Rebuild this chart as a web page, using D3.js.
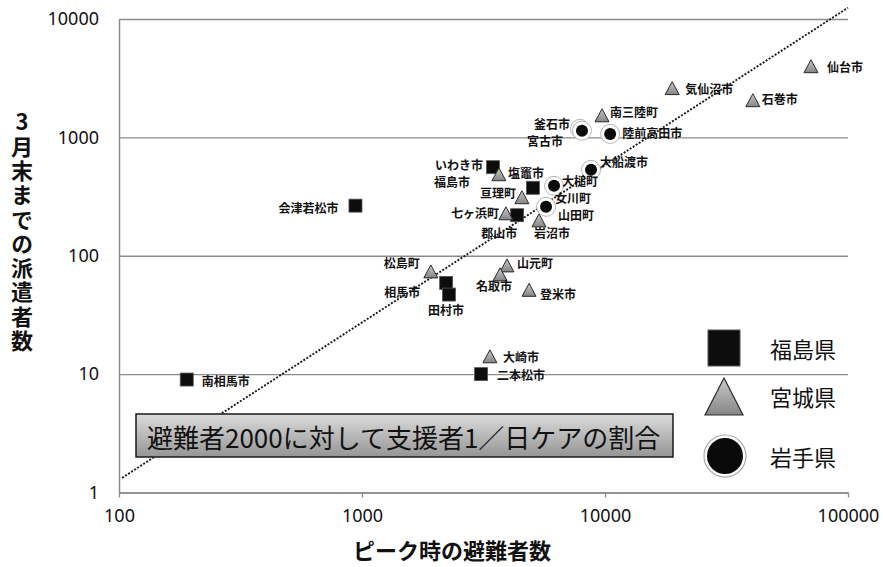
<!DOCTYPE html>
<html>
<head>
<meta charset="utf-8">
<script src="https://cdn.jsdelivr.net/npm/d3@7/dist/d3.min.js"></script>
<style>
  html, body { margin: 0; padding: 0; background: #fff; }
  svg { display: block; }
  .vtitle { writing-mode: vertical-rl; text-orientation: upright; }
</style>
</head>
<body>
<svg id="chart" width="883" height="567"></svg>
<script>
// ---- data: peak evacuees (x) vs. staff dispatched by end of March (y) ----
const fukushimaNames = ["南相馬市", "会津若松市", "いわき市", "福島市", "郡山市", "相馬市", "田村市", "二本松市"];
const fukushimaX     = [190, 940, 3460, 5050, 4350, 2220, 2280, 3090];
const fukushimaY     = [9, 265, 560, 375, 220, 59, 47, 10];

const miyagiNames = ["女川町", "仙台市", "石巻市", "気仙沼市", "南三陸町", "塩竈市", "亘理町", "七ヶ浜町", "岩沼市", "松島町", "山元町", "名取市", "登米市", "大崎市"];
const miyagiX     = [5720, 70400, 40600, 18900, 9720, 3660, 4550, 3910, 5350, 1920, 3950, 3700, 4870, 3360];
const miyagiY     = [259, 3950, 2040, 2580, 1520, 483, 309, 226, 197, 73, 82, 69, 51, 14];

const iwateNames = ["釜石市", "宮古市", "陸前高田市", "大船渡市", "大槌町", "山田町"];
const iwateX     = [7890, 8040, 10500, 8760, 6170, 5720];
const iwateY     = [1180, 1140, 1070, 532, 390, 259];

// reference line: 1 helper per day for every 2000 evacuees
const refX = [103, 100000];
const refY = [1.33, 12460];

const xTicks = [100, 1000, 10000, 100000];
const yTicks = [1, 10, 100, 1000, 10000];
const legendNames = ["福島県", "宮城県", "岩手県"];
const xTitle = "ピーク時の避難者数";
const yTitle = "3月末までの派遣者数";
const noteText = "避難者2000に対して支援者1／日ケアの割合";

// ---- label placement relative to each marker: [dx, dy, anchor] ----
const labelPlacement = {
  "南相馬市": [15, 1, "start"], "会津若松市": [-17, 2, "end"], "いわき市": [-10, -3, "end"],
  "福島市": [-63, -6, "end"], "郡山市": [-18, 17, "middle"], "相馬市": [-26, 9, "end"],
  "田村市": [-3, 15, "middle"], "二本松市": [16, 0, "start"],
  "仙台市": [16, 0, "start"], "石巻市": [9, -2, "start"], "気仙沼市": [13, 0, "start"],
  "南三陸町": [8, -4, "start"], "塩竈市": [9, -2, "start"], "亘理町": [-6, -5, "end"],
  "七ヶ浜町": [-7, -1, "end"], "岩沼市": [13, 12, "middle"], "松島町": [-11, -9, "end"],
  "山元町": [10, -3, "start"], "名取市": [-6, 11, "middle"], "登米市": [11, 3, "start"],
  "大崎市": [13, 0, "start"], "女川町": [9, -9, "start"],
  "釜石市": [-10, -5, "end"], "宮古市": [-19, 10, "end"], "陸前高田市": [12, -1, "start"],
  "大船渡市": [9, -8, "start"], "大槌町": [8, -5, "start"], "山田町": [12, 8, "start"]
};

const JP = "'Noto Sans CJK JP', 'Noto Sans', sans-serif";
const NUM = "'Noto Sans', 'Liberation Sans', sans-serif";

const svg = d3.select("#chart");
svg.append("rect").attr("width", 883).attr("height", 567).attr("fill", "#fff");

const plotLeft = 119, plotRight = 848, plotTop = 19, plotBottom = 492.5;
const x = d3.scaleLog().domain([100, 100000]).range([plotLeft, plotRight]);
const y = d3.scaleLog().domain([1, 10000]).range([plotBottom, plotTop]);

const defs = svg.append("defs");
const triGrad = defs.append("linearGradient").attr("id", "triGrad").attr("x1", 0).attr("y1", 0).attr("x2", 0).attr("y2", 1);
triGrad.append("stop").attr("offset", "0%").attr("stop-color", "#c9c9c9");
triGrad.append("stop").attr("offset", "100%").attr("stop-color", "#858585");
const boxGrad = defs.append("linearGradient").attr("id", "boxGrad").attr("x1", 0).attr("y1", 0).attr("x2", 0).attr("y2", 1);
boxGrad.append("stop").attr("offset", "0%").attr("stop-color", "#dcdcdc");
boxGrad.append("stop").attr("offset", "100%").attr("stop-color", "#959595");

// ---- y axis with horizontal gridlines ----
const yAxis = svg.append("g")
  .attr("transform", `translate(${plotLeft},0)`)
  .call(d3.axisLeft(y).tickValues(yTicks).tickFormat(d => d)
    .tickSize(-(plotRight - plotLeft)).tickSizeOuter(0).tickPadding(20));
yAxis.selectAll("line").attr("stroke", "#8c8c8c").attr("stroke-width", 1.3);
yAxis.select(".domain").attr("stroke", "#8c8c8c").attr("stroke-width", 1.5);
yAxis.selectAll("text").attr("font-family", NUM).attr("font-size", 18).attr("fill", "#111");

// ---- x axis ----
const xAxis = svg.append("g")
  .attr("transform", `translate(0,${plotBottom})`)
  .call(d3.axisBottom(x).tickValues(xTicks).tickFormat(d => d)
    .tickSize(5).tickSizeOuter(0).tickPadding(12));
xAxis.selectAll("line").attr("stroke", "#8c8c8c").attr("stroke-width", 1.3);
xAxis.select(".domain").attr("stroke", "#8c8c8c").attr("stroke-width", 1.5);
xAxis.selectAll("text").attr("font-family", NUM).attr("font-size", 18).attr("fill", "#111");

// ---- axis titles ----
svg.append("text")
  .attr("x", 452).attr("y", 549)
  .attr("text-anchor", "middle").attr("dominant-baseline", "central")
  .attr("font-family", JP).attr("font-weight", 700).attr("font-size", 22).attr("fill", "#111")
  .text(xTitle);

// vertical title, characters set upright in a single column
svg.append("text")
  .attr("class", "vtitle")
  .attr("x", 22).attr("y", 111)
  .attr("font-family", JP).attr("font-weight", 700).attr("font-size", 22).attr("fill", "#111")
  .attr("letter-spacing", 2.3)
  .text(yTitle);

// ---- reference line ----
svg.append("path")
  .datum(refX.map((v, i) => [v, refY[i]]))
  .attr("d", d3.line().x(d => x(d[0])).y(d => y(d[1])))
  .attr("fill", "none").attr("stroke", "#1a1a1a").attr("stroke-width", 1.9)
  .attr("stroke-dasharray", "2,1.6");

// ---- annotation box ----
svg.append("rect")
  .attr("x", 136).attr("y", 414).attr("width", 537).attr("height", 43)
  .attr("fill", "url(#boxGrad)").attr("stroke", "#1a1a1a").attr("stroke-width", 1.5);
svg.append("text")
  .attr("x", 147).attr("y", 436)
  .attr("dominant-baseline", "central")
  .attr("font-family", JP).attr("font-size", 26).attr("fill", "#111")
  .text(noteText);

// ---- markers ----
const triPath = s => `M0,${-s} L${s},${s * 0.85} L${-s},${s * 0.85} Z`;

const fukushima = fukushimaNames.map((n, i) => ({ name: n, x: fukushimaX[i], y: fukushimaY[i] }));
const miyagi = miyagiNames.map((n, i) => ({ name: n, x: miyagiX[i], y: miyagiY[i] }));
const iwate = iwateNames.map((n, i) => ({ name: n, x: iwateX[i], y: iwateY[i] }));

const gMarks = svg.append("g");

gMarks.selectAll("rect.fk").data(fukushima).join("rect")
  .attr("class", "fk")
  .attr("x", d => x(d.x) - 6.5).attr("y", d => y(d.y) - 6.5)
  .attr("width", 13).attr("height", 13)
  .attr("fill", "#0d0d0d").attr("stroke", "#555").attr("stroke-width", 0.8);

gMarks.selectAll("path.mg").data(miyagi).join("path")
  .attr("class", "mg")
  .attr("transform", d => `translate(${x(d.x)},${y(d.y)})`)
  .attr("d", triPath(7))
  .attr("fill", "url(#triGrad)").attr("stroke", "#2a2a2a").attr("stroke-width", 1);

const iw = gMarks.selectAll("g.iw").data(iwate).join("g")
  .attr("class", "iw")
  .attr("transform", d => `translate(${x(d.x)},${y(d.y)})`);
iw.append("circle").attr("r", 9.5).attr("fill", "#fff").attr("stroke", "#b5b5b5").attr("stroke-width", 1);
iw.append("circle").attr("r", 6).attr("fill", "#0a0a0a");

// ---- point labels ----
const allPoints = fukushima.concat(miyagi, iwate);
svg.append("g").selectAll("text").data(allPoints).join("text")
  .attr("x", d => x(d.x) + labelPlacement[d.name][0])
  .attr("y", d => y(d.y) + labelPlacement[d.name][1])
  .attr("text-anchor", d => labelPlacement[d.name][2])
  .attr("dominant-baseline", "central")
  .attr("font-family", JP).attr("font-weight", 700).attr("font-size", 12).attr("fill", "#111")
  .text(d => d.name);

// ---- legend ----
const legRowY = [348, 396, 456];
const legX = 724, legTextX = 770;
const leg = svg.append("g");
leg.append("rect").attr("x", legX - 16).attr("y", legRowY[0] - 18).attr("width", 32).attr("height", 36)
  .attr("fill", "#0d0d0d").attr("stroke", "#555").attr("stroke-width", 1);
leg.append("path").attr("transform", `translate(${legX},${legRowY[1] + 1})`)
  .attr("d", "M0,-19 L19,18 L-19,18 Z")
  .attr("fill", "url(#triGrad)").attr("stroke", "#2a2a2a").attr("stroke-width", 1.2);
leg.append("circle").attr("cx", legX + 1).attr("cy", legRowY[2]).attr("r", 21)
  .attr("fill", "#fff").attr("stroke", "#a8a8a8").attr("stroke-width", 1.2);
leg.append("circle").attr("cx", legX + 1).attr("cy", legRowY[2]).attr("r", 18).attr("fill", "#0a0a0a");
leg.selectAll("text").data(legendNames).join("text")
  .attr("x", legTextX).attr("y", (d, i) => legRowY[i])
  .attr("dominant-baseline", "central")
  .attr("font-family", JP).attr("font-size", 22).attr("fill", "#111")
  .text(d => d);
</script>
</body>
</html>
